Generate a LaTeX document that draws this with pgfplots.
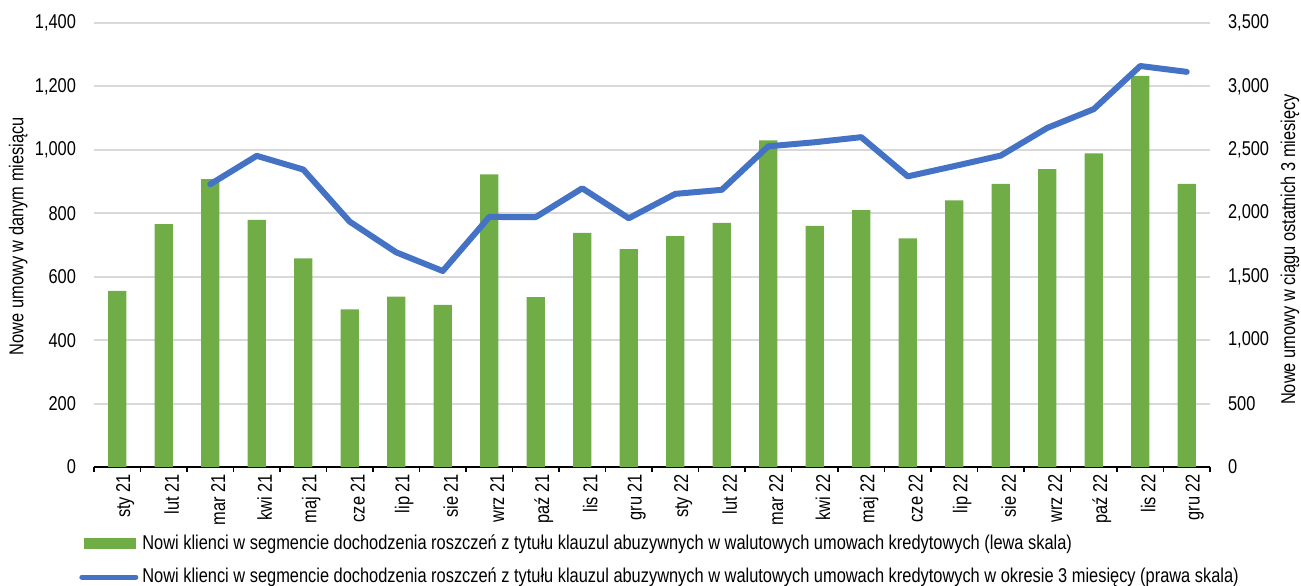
\documentclass[border=0pt]{standalone}
\usepackage{fontspec}
\setmainfont{Liberation Sans}[FakeStretch=0.82]
\usepackage{pgfplots}
\pgfplotsset{compat=1.18}
\definecolor{barg}{HTML}{70AD47}
\definecolor{lineb}{HTML}{4472C4}
\definecolor{gridc}{HTML}{D9D9D9}
\newcommand{\fs}{\fontsize{10}{11.5}\selectfont}
\begin{document}
\begin{tikzpicture}
\useasboundingbox (-47pt,-59pt) rectangle (603.5pt,233.5pt);
\begin{axis}[
  scale only axis, width=558pt, height=222pt,
  xmin=-0.5, xmax=23.5, ymin=0, ymax=1400,
  ytick distance=200,
  scaled y ticks=false,
  axis x line*=bottom, axis y line*=left,
  y axis line style={draw=none},
  x axis line style={black, line width=1pt, -},
  major tick length=0pt,
  tick align=outside,
  ymajorgrids, grid style={gridc, line width=1pt},
  xtick={0,...,23},
  xticklabels={sty 21,lut 21,mar 21,kwi 21,maj 21,cze 21,lip 21,sie 21,wrz 21,paź 21,lis 21,gru 21,sty 22,lut 22,mar 22,kwi 22,maj 22,cze 22,lip 22,sie 22,wrz 22,paź 22,lis 22,gru 22},
  x tick label style={rotate=90, anchor=east, font=\fs, yshift=-4pt},
  y tick label style={font=\fs, xshift=-5.5pt, /pgf/number format/.cd, 1000 sep={,}, assume math mode=true},
  extra x ticks={-0.5,0.5,...,23.5}, extra x tick labels={},
  extra x tick style={major tick length=2.5pt, tick style={black, line width=0.75pt}, grid=none},
  ylabel={Nowe umowy w danym miesiącu},
  ylabel style={at={(axis description cs:-0.068,0.52)}, anchor=center, font=\fs},
  legend cell align=left,
  legend style={draw=none, fill=none, at={(axis description cs:-0.0135,-0.142)}, anchor=north west, font=\fs, row sep=4pt, inner sep=0pt},
]
\addplot[ybar, bar width=0.39, fill=barg, draw=none,
  legend image code/.code={\fill[barg] (0pt,-2.75pt) rectangle (26pt,2.75pt);}]
  coordinates {(0,555) (1,766) (2,908) (3,779) (4,658) (5,497) (6,537) (7,511) (8,923) (9,536) (10,738) (11,687) (12,728) (13,770) (14,1030) (15,760) (16,810) (17,721) (18,841) (19,893) (20,939) (21,989) (22,1233) (23,893)};
\addlegendentry{Nowi klienci w segmencie dochodzenia roszczeń z tytułu klauzul abuzywnych w walutowych umowach kredytowych (lewa skala)}
\addlegendimage{legend image code/.code={\draw[lineb, line width=2.5pt, line cap=round] (-1pt,0pt) -- (26pt,0pt);}}
\addlegendentry{Nowi klienci w segmencie dochodzenia roszczeń z tytułu klauzul abuzywnych w walutowych umowach kredytowych w okresie 3 miesięcy (prawa skala)}
\end{axis}
\begin{axis}[
  scale only axis, width=558pt, height=222pt,
  xmin=-0.5, xmax=23.5, ymin=0, ymax=3500,
  ytick distance=500,
  scaled y ticks=false,
  axis x line=none, axis y line*=right,
  y axis line style={draw=none},
  major tick length=0pt,
  y tick label style={font=\fs, xshift=5.5pt, /pgf/number format/.cd, 1000 sep={,}, assume math mode=true},
  ylabel={Nowe umowy w ciągu ostatnich 3 miesięcy},
  ylabel style={at={(axis description cs:1.0717,0.49)}, anchor=center, font=\fs},
]
\addplot[lineb, line width=3pt, line cap=round, line join=round]
  coordinates {(2,2229) (3,2453) (4,2345) (5,1934) (6,1692) (7,1545) (8,1971) (9,1970) (10,2197) (11,1961) (12,2153) (13,2185) (14,2528) (15,2560) (16,2600) (17,2291) (18,2372) (19,2455) (20,2673) (21,2821) (22,3161) (23,3115)};
\end{axis}
\end{tikzpicture}
\end{document}
